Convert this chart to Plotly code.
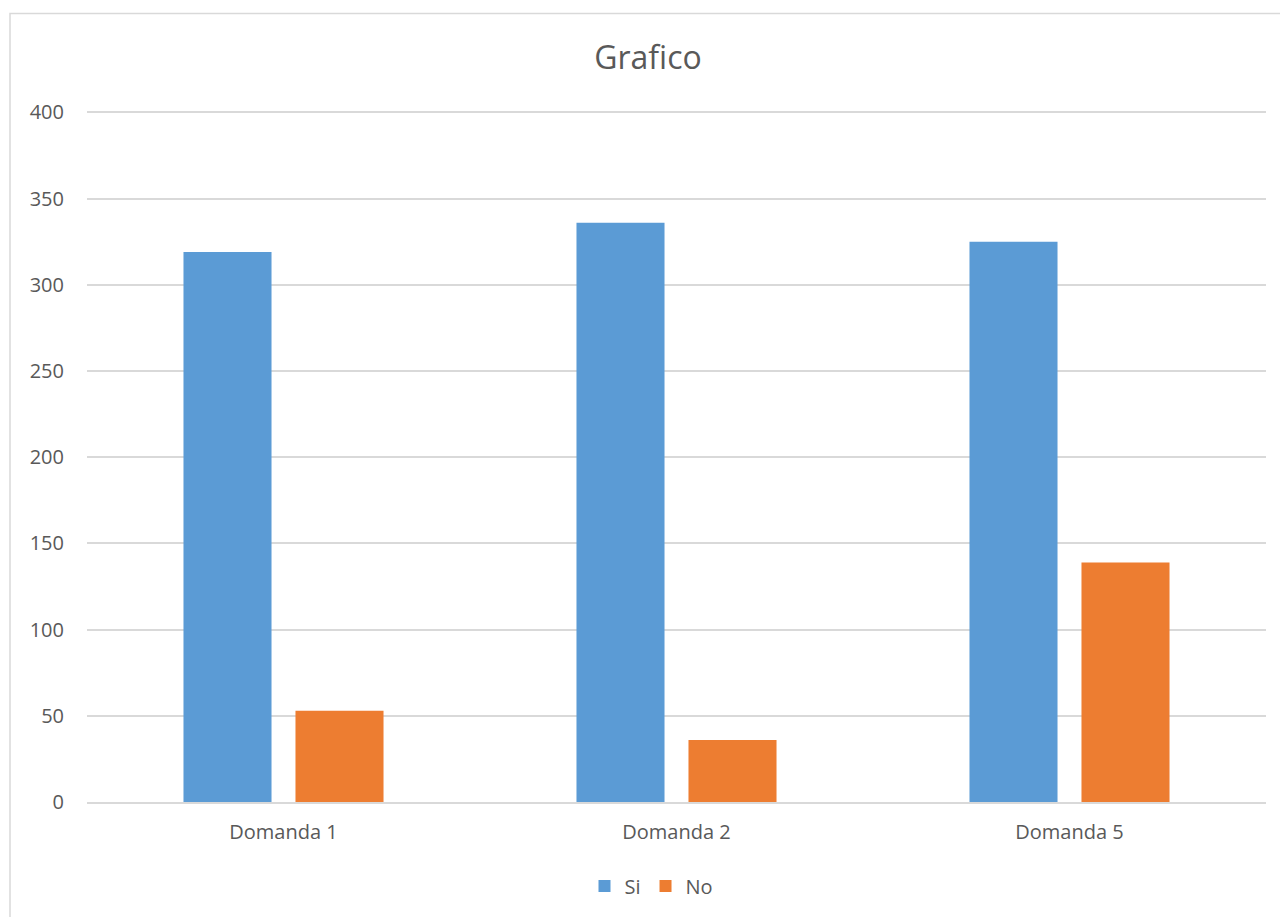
import plotly.graph_objects as go

categories = ["Domanda 1", "Domanda 2", "Domanda 5"]
si_values = [319, 336, 325]
no_values = [53, 36, 139]
y_ticks = [0, 50, 100, 150, 200, 250, 300, 350, 400]

FONT = "Open Sans, Liberation Sans, sans-serif"
TXT = "#595959"

fig = go.Figure()
fig.add_trace(go.Bar(x=categories, y=si_values, name="Si",
                     marker=dict(color="#5B9BD5", line=dict(width=0))))
fig.add_trace(go.Bar(x=categories, y=no_values, name="No",
                     marker=dict(color="#ED7D31", line=dict(width=0))))

# page has an 8px body margin; work in figure coordinates
OFF = 8
W, H = 1288 - OFF, 917 - OFF
Y_TOP = 402
L, R, B = 87 - OFF, 22, 115
PX_PER_UNIT = 690 / 400
ph = Y_TOP * PX_PER_UNIT
T = H - B - ph
pw = W - L - R
axis_y = 802 - OFF

fig.update_layout(
    width=W, height=H,
    margin=dict(l=L, r=R, t=T, b=B, pad=0),
    paper_bgcolor="white", plot_bgcolor="white",
    barmode="group", bargap=0.43, bargroupgap=0.214,
    title=dict(text="Grafico", x=0.5, xanchor="center", y=1 - (58 - OFF) / H, yanchor="middle",
               font=dict(family=FONT, size=32, color=TXT)),
    font=dict(family=FONT, color=TXT),
    showlegend=True,
    legend=dict(orientation="h", x=0.5 - 25 / pw, xanchor="center",
                y=-((886 - OFF) - axis_y) / ph, yanchor="middle",
                font=dict(family=FONT, size=20, color=TXT), itemwidth=30, tracegroupgap=0),
    xaxis=dict(showgrid=False, showline=True, linecolor="#D9D9D9", linewidth=1.5,
               ticks="", ticklabelstandoff=11,
               tickfont=dict(family=FONT, size=20, color=TXT)),
    yaxis=dict(range=[0, Y_TOP], tickvals=y_ticks, showgrid=True, gridcolor="#D9D9D9",
               gridwidth=1.5, zeroline=False, showline=False, ticks="",
               ticklabelstandoff=22,
               tickfont=dict(family=FONT, size=20, color=TXT)),
    shapes=[dict(type="rect", xref="paper", yref="paper",
                 x0=((10 - OFF) - L) / pw, x1=(1300 - L) / pw,
                 y0=(axis_y - 930) / ph, y1=(axis_y - (13 - OFF)) / ph,
                 line=dict(color="#D9D9D9", width=1.5), fillcolor="rgba(0,0,0,0)",
                 layer="below")],
)

fig.write_html("out.html")
